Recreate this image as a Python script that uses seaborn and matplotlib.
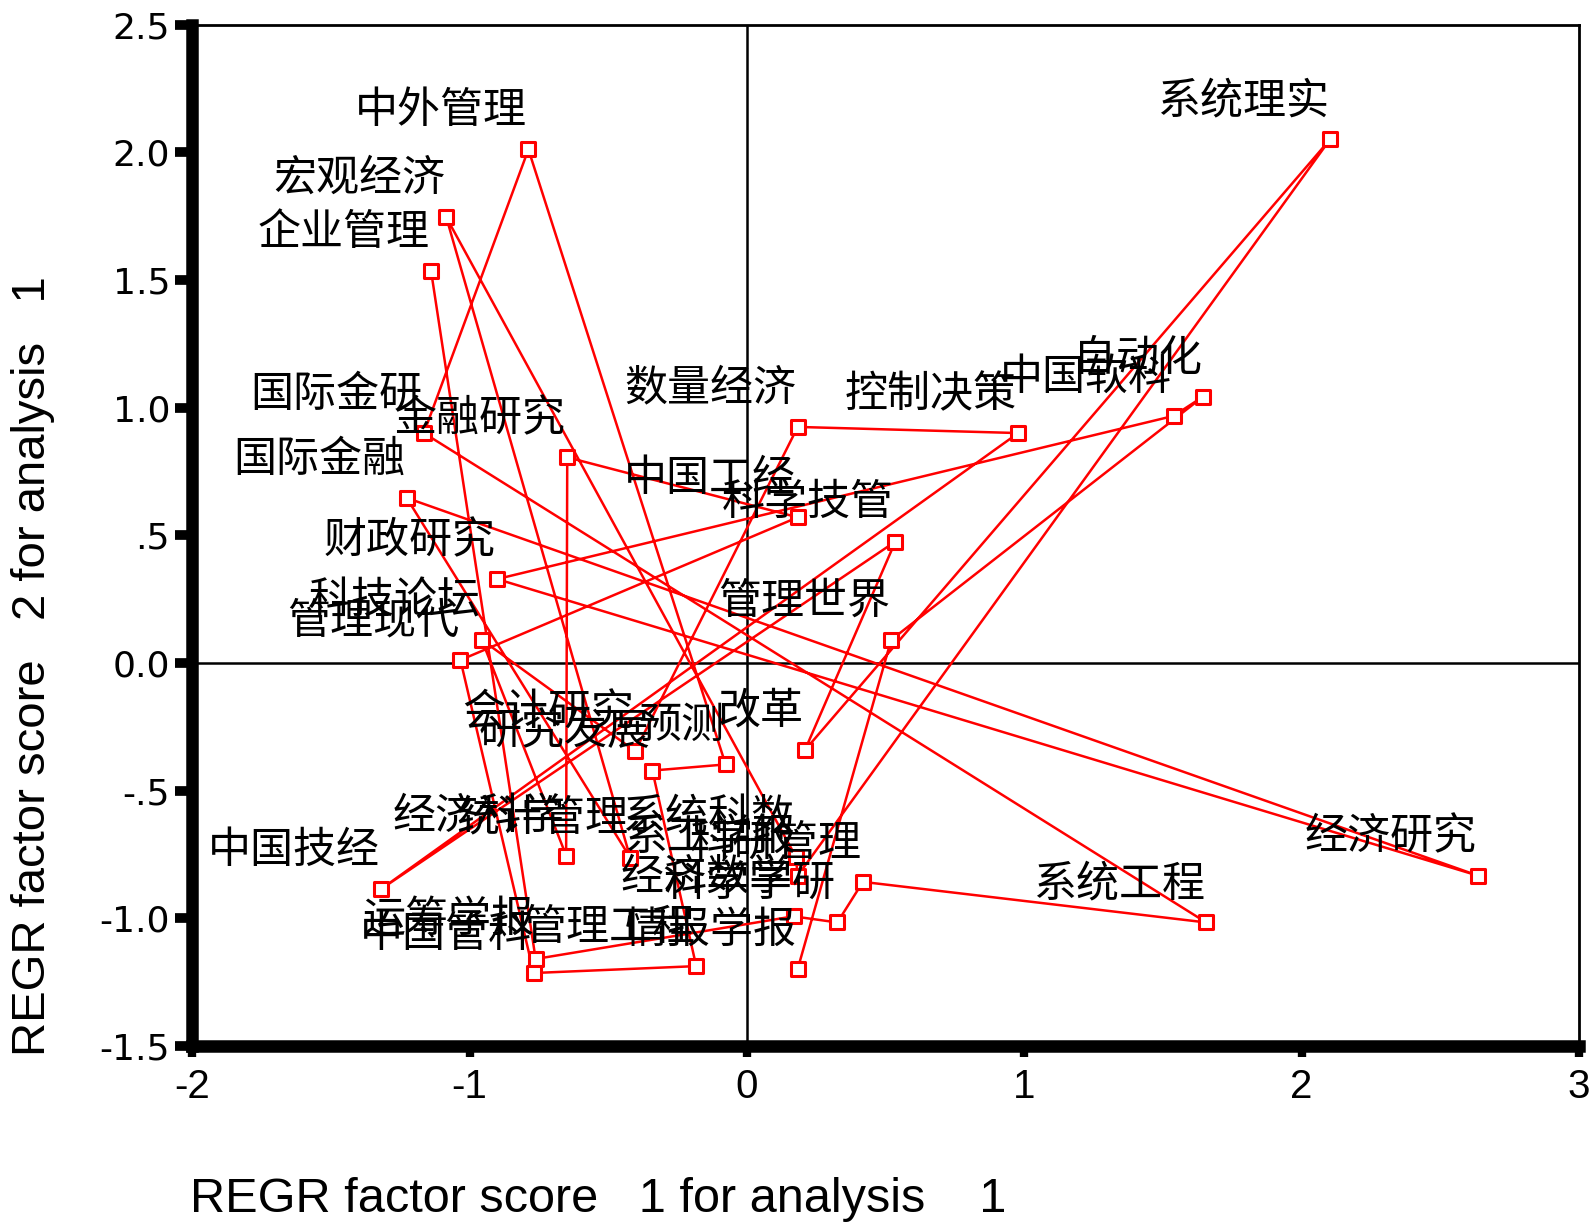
import matplotlib
matplotlib.use("Agg")
import matplotlib.pyplot as plt
import seaborn as sns
import pandas as pd
from matplotlib import font_manager as fm

sns.set_theme(style="white")
_names = {f.name for f in fm.fontManager.ttflist}
NARROW = "Liberation Sans Narrow" if "Liberation Sans Narrow" in _names else "Liberation Sans"
plt.rcParams["font.family"] = ["Noto Sans CJK SC", "DejaVu Sans"]

# ---- data (in drawing order of the connecting line) ----
journals = ["企业管理", "运筹学报", "经济数学", "科学学研", "科研管理", "系统工程", "国际金研",
            "中外管理", "预测", "研究发展", "管理工程", "中国管科", "管理现代", "中国工经",
            "金融研究", "经济科学", "科技论坛", "会计研究", "数量经济", "控制决策", "中国技经",
            "科学技管", "改革", "系统理实", "系工学报", "系统科数", "宏观经济", "统计管理",
            "国际金融", "经济研究", "财政研究", "中国软科", "自动化", "管理世界", "情报学报"]
factor1 = [-1.139, -0.762, 0.168, 0.326, 0.418, 1.656, -1.165,
           -0.788, -0.077, -0.341, -0.183, -0.769, -1.033, 0.183,
           -0.648, -0.652, -0.956, -0.403, 0.183, 0.978, -1.319,
           0.535, 0.209, 2.103, 0.183, 0.176, -1.084, -0.421,
           -1.227, 2.637, -0.901, 1.538, 1.645, 0.520, 0.183]
factor2 = [1.536, -1.159, -0.992, -1.016, -0.857, -1.016, 0.901,
           2.012, -0.397, -0.421, -1.187, -1.214, 0.012, 0.571,
           0.806, -0.754, 0.091, -0.345, 0.925, 0.901, -0.885,
           0.476, -0.341, 2.052, -0.833, -0.758, 1.746, -0.762,
           0.647, -0.833, 0.329, 0.968, 1.044, 0.091, -1.198]
xticks = [-2, -1, 0, 1, 2, 3]
xtick_labels = ["-2", "-1", "0", "1", "2", "3"]
yticks = [-1.5, -1.0, -0.5, 0.0, 0.5, 1.0, 1.5, 2.0, 2.5]
ytick_labels = ["-1.5", "-1.0", "-.5", "0.0", ".5", "1.0", "1.5", "2.0", "2.5"]

df = pd.DataFrame({"journal": journals, "f1": factor1, "f2": factor2})

fig = plt.figure(figsize=(15.89, 12.23), dpi=100)
ax = fig.add_axes([0.121, 0.1447, 0.8727, 0.835])

ax.axvline(0, color="black", lw=1.8, zorder=1)
ax.axhline(0, color="black", lw=1.8, zorder=1)

sns.lineplot(data=df, x="f1", y="f2", sort=False, estimator=None, color="red",
             lw=1.8, ax=ax, zorder=2)
sns.scatterplot(data=df, x="f1", y="f2", marker="s", s=100, color="white",
                edgecolor="red", linewidth=2.2, ax=ax, zorder=3)

for name, xv, yv in zip(journals, factor1, factor2):
    ax.annotate(name, (xv, yv), xytext=(-1, 27.5), textcoords="offset points",
                ha="right", va="center", fontsize=31, color="black",
                family=["Noto Sans CJK SC", "DejaVu Sans"], zorder=4)

ax.set_xlim(-2, 3)
ax.set_ylim(-1.5, 2.5)
ax.set_xticks(xticks)
ax.set_xticklabels(xtick_labels, family=[NARROW, "DejaVu Sans"], fontsize=29)
ax.set_yticks(yticks)
ax.set_yticklabels(ytick_labels, family=["DejaVu Sans"], fontsize=26)
ax.set_xlabel("")
ax.set_ylabel("")

for side in ["top", "right"]:
    ax.spines[side].set_linewidth(2)
    ax.spines[side].set_color("black")
for side in ["left", "bottom"]:
    ax.spines[side].set_linewidth(9)
    ax.spines[side].set_color("black")
ax.tick_params(axis="y", direction="out", length=12, width=7, pad=4, colors="black", left=True)
ax.tick_params(axis="x", direction="out", length=8, width=6, pad=8, colors="black", bottom=True)
ax.grid(False)

fig.text(190 / 1589, 1 - 1199 / 1223, "REGR factor score   1 for analysis    1",
         family=[NARROW, "DejaVu Sans"], fontsize=35, ha="left", va="center", color="black")
fig.text(33 / 1589, 1 - 666 / 1223, "REGR factor score   2 for analysis   1",
         family=[NARROW, "DejaVu Sans"], fontsize=34, ha="center", va="center", rotation=90,
         color="black")

fig.savefig("out.png", dpi=100, facecolor="white")
